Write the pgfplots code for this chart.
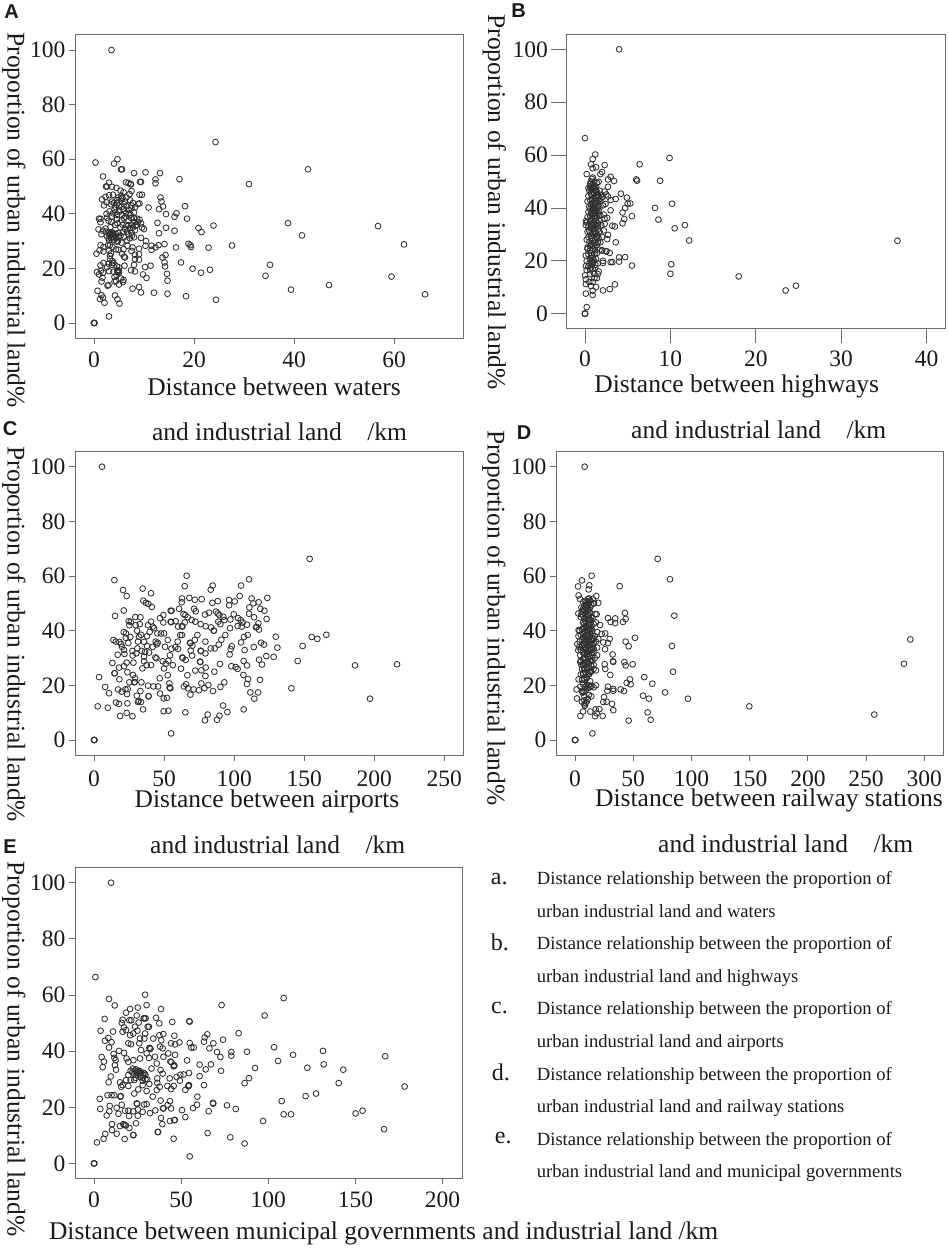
\documentclass[border=0pt]{standalone}
\usepackage{fontspec}
\setmainfont{Liberation Serif}
\newfontfamily\panelfont{Liberation Sans}
\usepackage{pgfplots}
\pgfplotsset{compat=1.18}

\definecolor{boxgray}{HTML}{6A6A6A}
\definecolor{markgray}{HTML}{303030}
\definecolor{txt}{HTML}{1A1A1A}

\newcommand{\lab}{\fontsize{25.5}{26}\selectfont}
\newcommand{\tck}{\fontsize{23.5}{24}\selectfont}
\newcommand{\leg}{\fontsize{18.6}{19}\selectfont}
\newcommand{\legl}{\fontsize{24}{24}\selectfont}
\newcommand{\pan}{\panelfont\bfseries\fontsize{20}{20}\selectfont}

\pgfplotsset{
  panel/.style={
    scale only axis,
    anchor=south west,
    axis line style={boxgray,line width=0.9pt},
    tick style={boxgray,line width=0.9pt},
    major tick length=6pt,
    tick align=outside,
    xtick pos=bottom,
    ytick pos=left,
    ytick={0,20,40,60,80,100},
    ticklabel style={font=\tck,text=txt},
    xticklabel style={yshift=-4pt},
    /pgf/number format/assume math mode=true,
    xlabel style={font=\lab,text=txt,anchor=center,at={(axis description cs:0.5,0)}},
    ylabel style={font=\lab,text=txt,anchor=center,at={(axis description cs:0,0.5)},rotate=180},
    ylabel={Proportion of urban industrial land\%},
  },
  pts/.style={only marks,mark=o,mark size=2.9pt,mark options={draw=markgray,line width=0.85pt}},
}

\begin{document}
\begin{tikzpicture}[x=1pt,y=1pt]
\path[use as bounding box] (0,-1249) rectangle (948,0);

% A: waters
\begin{axis}[panel,at={(75pt,-338pt)},width=388pt,height=303.5pt,
  xmin=-3.8,xmax=73.8,ymin=-5.5,ymax=105.7,xtick={0,20,40,60},
  xlabel={Distance between waters},
  xlabel style={xshift=5pt,yshift=-49pt},
  ylabel style={xshift=34pt,yshift=-61pt}]
\addplot[pts] coordinates {
(3.5,100)(24.3,66.3)(42.8,56.3)(31,50.9)(0.3,58.8)(4.7,60)(4,58.4)(5.4,56.3)(5.6,56.3)(8,54.9)(10.3,55.2)(13.2,54.9)(17.1,52.7)(12.3,52.6)(12.3,51.2)(9.2,51.7)(9.4,51.7)(1.8,53.7)
(18.2,42.8)(16.5,40.2)(16.1,38.9)(18.6,38.2)(14.4,39.9)(10.9,42.3)(13.3,46)(13.5,44.5)(13.8,42.7)(13,41.7)(12.7,36.7)(14.4,34.9)(13,32.9)(16.1,33.8)(20.9,34.8)(21.5,33.3)(23.9,35.7)(38.8,36.6)(41.6,32.1)(56.8,35.5)(62,28.8)(27.6,28.4)(22.9,27.6)(19.3,28.5)(18.9,29)(19.4,27.8)(16.4,27.7)(14.1,28.9)(12.9,28.5)(11.5,28.3)(12.3,27.7)(11.5,26.8)(10.3,28.3)(10.4,30)(9.4,31.2)
(14.3,24.9)(13.7,24)(14.1,22.2)(14.2,20.7)(17.4,22.2)(19.7,19.9)(21.4,18.4)(23.2,19.5)(35.2,21.3)(34.3,17.3)(14.6,18)(14.7,15.5)(11.3,21)(10.2,20.5)(9.8,17.8)(10.5,16.5)(59.5,17)(47,13.9)(39.4,12.2)(66.2,10.5)(24.4,8.5)(18.4,9.8)(14.7,10.7)(12,11.1)(9.4,11.2)(9,13.2)(7.7,12.6)(3,2.4)(0,0)(0,0)(0.1,0)
(5.1,7.1)(4.7,8.7)(4.2,10.1)(2.1,7.4)(1.2,8.8)(1.8,9.3)(1.5,10.2)(0.7,11.8)(2.7,13.7)(2.9,13.9)
(3,51.4)(2.6,50)(2.4,50)(3.6,49.9)(4.5,49.5)(6.4,51.5)(6.9,51.3)(7.3,50.9)(7.4,50.8)(5.3,48.5)(5.9,47.9)(7.5,48.4)(7.1,47.2)(9.1,47)(9.6,47)
(1.6,45.3)(2.3,46.2)(3,46.8)(3.8,47)(4.6,45)(5.4,45.6)(5.7,45.8)(6.2,44.5)(7.2,45)(7.8,44)(2.5,44.2)(2,43.1)(3.4,43.5)(4,44)(4.3,42.6)(5,43)(4.1,41.5)(8.8,43.6)(9.1,43.8)(8.2,42.4)(7.5,42)(6.5,42.8)(5.9,41.7)(6.4,40.3)(6.9,40)(7.3,39.7)(5.1,40.8)(4.6,39.6)(3.5,39)(2.6,38.6)(2.5,40)(3.1,40.9)(1.3,38.2)(1,38.2)(1.3,36.9)(4.6,38)(5.5,37.7)(6,38.4)(6.9,37.4)(8,38.5)(8.6,38.2)(9.1,37.9)(9.4,36.5)(8.8,37)(9.6,35)(10,34.4)(8.3,35.6)(7.8,35)(7.1,34.7)(6.5,35.8)(5.7,36)(5.3,35)(4.2,36)(3.3,35.2)(2.3,34.6)(1.8,33.8)(0.9,34.3)
(1.5,32.5)(2.4,33.4)(3,33)(3.3,32.5)(3.6,32.3)(3.9,32.6)(4.2,32)(2.6,31.8)(3.4,31)(4.5,31)(4.9,33)(5.8,33.4)(6.6,33.5)(7.5,33.1)(8.2,34)(8,31.4)(7.2,31)(6.6,30.3)(5.5,29.4)(4.6,29.8)(3.2,28.6)(2.8,28.5)(3.7,27.9)(1.3,28.5)(1.9,27.8)(1.1,26.6)(0.5,25.4)(1.9,26.2)(4.9,26.8)(5.9,27)(6.7,28.3)(7.7,27.7)(7.5,26.4)(5.6,25.4)(6,24.3)(6.2,24)(8.2,25)(9,25.2)(9,27.2)(8.2,23.4)(9,23.2)(8,21.3)(6.1,21)(3.2,24.6)(3.2,23.4)(3.7,22.7)(1.9,22)(2.9,21.7)(1.3,21.1)(2.6,20.5)(3.7,22)(4.6,20.7)(5,20.4)(7.4,19.3)(8.2,18.9)(0.6,18.7)(1.4,19.2)(1.8,18.4)(3,19)(3.9,18.8)(4.7,19.4)(5,18.5)(4.5,17.6)(4.1,16.9)(1,17.8)(1.7,16.6)(5.4,16.3)(5.9,15.8)(5.8,15)(4.4,15.4)(4.1,15.2)(5,14.1)(1.5,15.2)
(3.2,32)(3.5,31.5)(3.8,33)(4,31.5)(3.1,32.5)(3.6,33.2)(4.4,32.6)(2.9,31)(3,30.3)(4,30.5)(4.8,30)(4.9,31.5)(5.3,32)(6,31.5)(6.9,32.5)(7.6,32)(6.2,34.5)(6.9,35.8)(7.5,36)(8.1,37)(7.4,38.5)(6.3,39)(5.6,39.5)(4.3,40.5)(3.8,40.2)(5,41.5)(5.5,42.5)(6,43.5)(4.6,43.8)(3.6,44.5)(4.9,46)(5.5,46.5)(6.5,46)(7.5,43)(6.9,41.5)(8,40.5)(8.5,36)(3.5,37)(2.9,37.5)(4.7,36.5)(3,26.5)(3.4,25.5)(4.4,27)(4.7,19)(4.9,19.1)(4.8,18.7)(3.9,22)(3.6,21.3)
};
\end{axis}

% B: highways
\begin{axis}[panel,at={(566.3pt,-328pt)},width=379pt,height=293.5pt,
  major tick length=15pt,
  xmin=-2.19,xmax=42.2,ymin=-5.4,ymax=105.6,xtick={0,10,20,30,40},
  xlabel={Distance between highways},
  xlabel style={xshift=-19pt,yshift=-58pt},
  ylabel style={xshift=21pt,yshift=-72pt}]
\addplot[pts] coordinates {
(4,100)(0,66.4)(1.2,60.2)(0.9,58.5)(9.9,58.9)(2.3,56.2)(6.4,56.5)(0.7,56.5)(1.3,55.4)(0.9,55)(2,53.6)(0.2,52.8)(1.8,52.8)(3,51.8)(6,50.8)(6.1,50.3)(8.8,50.3)(3.4,50.2)(2.7,50.8)(1.6,49.9)(2.7,48)(2.3,46.2)(4.2,45.4)(4.9,43.9)(2.5,45.1)(2.7,44.3)(3,43)(3.6,43.4)(5.3,41.7)(5,41.6)(10.2,41.6)(8.2,40)(4.7,40)(4.4,38.3)(3,39.1)(5.5,36.9)(8.6,35.6)(4.6,35.8)(4.4,34.2)(11.7,33.5)(10.5,32.3)(3.2,33.3)(3.5,33)(12.2,27.7)(36.6,27.6)(2.7,29.8)(2.6,28.2)(3.6,27)(2.5,23.7)(2.9,23)(2,23.8)(4.7,21.4)(4,21.3)(4,19.7)(3.2,19.5)(3,19.5)(5.5,18.2)(10.1,18.7)(10,15.1)(18,14.1)(24.7,10.6)(23.5,8.8)(3.5,11.1)(2.9,9.3)(2.1,8.8)(1.3,10.1)(0.9,8.7)(0.9,7.1)(0.1,7.6)(0.2,2.5)(0,0)(0,0)(0,0.1)
(0.1,35)(0.1,33.5)(0.2,34.5)(0.3,31)(0.2,28)(0.3,25)(0.1,22)(0.2,20)(0.1,18)(0.2,16.5)(0,14.5)(0.1,13)(0.1,11.2)(0.5,12)(0.6,15)(0.7,10.5)(0.9,12)(1.1,13.5)(1.4,13.5)(1.5,15)(1.6,16)(1.1,15)(0.7,17.5)(0.4,18)(0.8,19)(1.2,18.5)(1.5,19)(2.1,19.2)(2.1,20)(0.6,20.5)(0.9,21)(0.4,22.5)(0.7,23)(1.2,24)(1.7,24.2)(2,24)(2.5,23.5)(0.3,24.5)(0.6,25.5)(1,25.8)(1.4,26)(1.8,27)(0.5,27)(0.9,27.5)(1.2,28)(1.6,28.5)(2,29)(0.4,29)(0.7,29.5)(1,30)(1.3,30.5)(1.7,31)(2.2,31.5)(0.5,31.5)(0.9,32)(1.2,32.5)(1.5,33)(1.9,33.5)(2.3,34)(0.4,33)(0.7,34)(1,34.5)(1.3,35)(1.6,35.5)(2.6,36.2)(2.3,36)(0.3,36.5)(0.6,37)(0.9,37.5)(1.2,38)(1.5,38)(1.8,37.2)(2.2,37.5)(0.4,38.5)(0.8,39)(1.1,39.5)(1.4,40)(1.7,40.2)(2.1,41)(2.4,41.5)(0.5,40.5)(0.9,41)(1.2,41.5)(1.5,42)(1.8,42.5)(0.3,42.5)(0.6,43)(1,43.5)(1.3,44)(1.6,44.5)(1.9,45)(0.4,44.5)(0.8,45)(1.1,45.5)(1.4,46)(1.7,46.5)(0.5,46.5)(0.7,47.5)(0.4,47.5)(1,48)(1.2,47)(0.6,49)(0.7,50)(0.8,51)(0.9,51.5)(1.1,50)(1.4,49.5)(1.5,45)(1.8,43.5)(2,44)
(0.8,22)(1.1,22.6)(0.6,24)(1.4,23)(0.9,24.6)(1.2,25.4)(0.7,26.2)(1.5,27)(1.1,26.8)(0.8,28.4)(1.3,29)(1.5,29.6)(0.6,30.5)(0.9,30.8)(1.2,31.2)(1.5,31.8)(0.7,32.6)(1,33)(1.3,33.6)(0.8,33.4)(1.1,33.9)(1.5,34.2)(0.6,35)(0.9,35.6)(1.2,36)(1.4,36.6)(0.8,36.4)(1.1,36.9)(1.6,37)(0.7,38)(1,38.6)(1.3,38.9)(1.6,39)(0.6,39.6)(0.9,40.2)(1.2,40.5)(1.5,40.8)(0.7,41.4)(1,42)(1.3,42.6)(1.6,43)(0.8,43)(1.1,43.9)(1.4,44.6)(0.7,45.4)(1,46)(1.3,46.6)(0.8,46.8)(0.9,47.6)(1.1,47.8)(1.3,48)(0.6,48.2)(0.9,49)(0.8,20)(1,20.4)(1.3,20.7)(0.5,19)(1,19.6)(0.6,16.5)(0.9,17)(1.2,17.3)
};
\end{axis}

% C: airports
\begin{axis}[panel,at={(75pt,-755pt)},width=388pt,height=303.3pt,
  xticklabel style={yshift=-2pt},
  xmin=-13.6,xmax=263.4,ymin=-5.5,ymax=105.5,xtick={0,50,100,150,200,250},
  xlabel={Distance between airports},
  xlabel style={xshift=-2pt,yshift=-46pt},
  ylabel style={xshift=31pt,yshift=-61pt}]
\addplot[pts] coordinates {
(5.7,100)(153.9,66.3)(14.5,58.5)(20.7,54.9)(23.3,52.7)(34.7,55.4)(40.7,53.7)(35.2,51)(37,50.2)(38.8,49.8)(41.2,48.7)(21.2,47.4)(15,45.4)
(66.1,60.1)(64.7,56.3)(84.7,56.5)(83.3,55)(104.9,56.5)(110.6,58.8)(62.8,51.8)(62.6,50.4)(68,52)(71.9,51.3)(76.8,51.5)(84.5,50.2)(88.3,50.8)(96.4,51.2)(96.4,49.3)(100.4,50.7)(104,52.7)(112.5,51.8)(123.7,52)(113.7,50)(117.5,50.4)(110.9,48.5)(118.7,48)(121.6,47.3)(110.6,46.2)(114.2,44.9)(123.2,44.3)(117.3,42.7)(115.6,41.2)(116.2,41.4)(117.8,40.4)
(55.4,47.3)(54.7,47.3)(60.7,48)(63.8,46.1)(65.2,45.7)(71.4,48)(72.6,47.1)(66.9,44.9)(69.7,43.9)(72.3,43.3)(76.1,42.4)(79.2,45.9)(82.1,46.6)(79.7,41.6)(83.5,41.2)(85.4,40)(85.6,40)(87.1,47)(88.3,46.3)(89.5,45.7)(92.3,45.1)(93,43.9)(88.7,43.3)(90.2,42.4)(97.3,44.1)(99.7,46)(102.8,44.6)(104.7,43.9)(106.1,43)(102.5,41.7)(105.4,41.5)(109.2,42.2)(97.1,40.9)(109.7,38.4)(107.1,37.7)(104.9,35.7)(93.7,38.4)(90.9,36.7)(89,34.9)(98.3,34.3)(97.5,33.3)(96.8,31.3)(107.5,32.9)(114,34)(119.2,35.6)(121.3,34.9)(129.7,37.8)(130.9,33.8)(123,30.7)(128.2,30.4)(117.8,29.4)(106.8,28.9)(109.2,27.3)(119.9,27.6)(148.9,34.4)(145.4,28.9)(155.4,37.7)(159.4,37)(165.8,38.5)(140.9,18.9)(186.3,27.3)(216.3,27.7)(197,15.1)
(98,27)(101.1,26.7)(102.5,26)(89.9,27.8)(85.9,25)(106.6,23.8)(109.9,22.3)(109.2,20.5)(118.5,22)(111.6,17.4)(117.1,17.4)(114.4,15.1)(106.8,11.2)(95.2,10.2)(92.1,12.6)(93,21.1)(90.2,19.4)(89.5,8.9)(87.8,7.4)(81.1,9.3)(79.2,7.2)(65.2,10.1)(53.1,10.7)(49.7,10.5)(55,2.4)(27.4,8.7)(23.3,9.9)(18.6,8.8)(9.8,11.8)(2.6,12.3)(10.7,17.1)(7.9,19.4)(3.6,23)(17.8,13.2)(15.7,13.7)(23.8,13.4)(35,11.2)(33.5,13.9)(31.4,13.9)(31.9,14.3)(38.8,16)(39,16)(30.5,16.2)(33.1,17.9)(33.8,21.1)(28.8,21.1)(29,21.2)(29.3,22.6)(27.8,23.8)(23.8,24.8)(25.2,21.1)(18.1,22.2)(17.1,18.5)(19.7,17.7)(22.4,18.5)(24,18.7)(23.6,16.8)(14.5,24.4)(14.8,24.4)(17.8,26.5)(13.1,28.2)(21.4,27)(23.3,28.3)(16.9,31.2)(21.7,31.5)(13.8,36.6)(15.5,36)(18.1,35.9)(19.3,35.1)(20,34.1)(21.4,32.9)(24.5,35.5)(25.9,37.7)(22.6,37.4)(21.2,39.5)(22.8,39)(24.7,43.5)(26.2,43.2)(25.2,42)(29.5,45)(33.1,44.9)(29.7,42)(32.6,42.4)(30.7,40)(33.5,38.5)(32.1,37.8)(31.4,36)(35.7,35.9)(27.4,32.6)(30.2,31.7)(34,32.6)(36.4,32.2)(39.3,32)(27.6,30.9)(30.9,33.5)(28.1,28.3)(35.7,30.5)(35.7,28.8)(37.6,27.4)(40.7,27.4)(34.5,26.2)(43.8,30.2)(44.6,29.9)(37.8,34.4)(38.5,42)(39.7,39.5)(40.7,43.3)(41.9,41.5)(42.8,40.9)(45.2,39)(44,36)(45.4,35.6)(44.7,35)(41.9,34.1)(37.8,38)(47.1,44.6)(49.5,45.7)(49.5,43)(47.8,39)(50,39)(52.6,36.6)(50.7,34.1)(49,28.8)(51.2,27.9)(50,26.2)(52.6,23.7)(46.9,22.6)(56.2,27.4)(53.1,29)(54.2,31)(55.2,33.4)(58,34)(60,33.3)(59.7,36)(63,30.2)(63.3,30)(65.4,29.3)(62.1,26.1)(66.6,23.7)(62.8,38.4)(61.5,38.4)(60,41.5)(58.3,43.5)(54.7,43.3)(55,43.1)(62.8,41.7)(63,41.5)(64.7,43)(68.5,35.6)(68.8,35.4)(70.2,34.5)(69,32.7)(70,30.9)(72.3,25.4)(76.1,32.7)(76.3,32.5)(79.5,31.7)(75.7,28.7)(75.9,28.5)(76.6,25.5)(79.7,26.5)(79.5,23.4)(73.8,38.4)(71.9,36.6)(83.3,33.5)(86.1,33.5)(79.5,36)
(65.7,20.4)(64.2,19.6)(54.2,19.1)(54.4,18.9)(54,19.2)(53.8,20.7)(67.1,18.9)(68.8,16.6)(71.1,18.5)(74.9,18.2)(76.6,20.7)(78.8,19)(81.6,20.1)(84.9,17.9)(45.7,19.6)(42.4,19.6)(38.5,19.9)(47.1,17)(49.7,15.2)(52,15.4)(0,0)(0,0)(0.3,0)
};
\end{axis}

% D: railway stations
\begin{axis}[panel,at={(556pt,-755pt)},width=387.3pt,height=303.3pt,
  xticklabel style={yshift=-2pt},
  xmin=-16.3,xmax=316.3,ymin=-5.5,ymax=105.5,xtick={0,50,100,150,200,250,300},
  xlabel={Distance between railway stations},
  xlabel style={xshift=19.4pt,yshift=-45.5pt},
  ylabel style={xshift=14.5pt,yshift=-62pt}]
\addplot[pts] coordinates {
(8.3,100)(71,66.3)(14.3,60.1)(81.6,58.8)(6,58.4)(38.4,56.3)(2.6,56.2)(12.3,56.6)(11.7,55.1)(3.1,52.9)(18.3,52.7)(4.3,51.6)(20,50.2)(16.3,50)(12,51.8)(15.2,51.6)
(85.3,45.5)(42.9,46.5)(43.5,44.3)(41.2,43.2)(28.3,44.6)(34.6,44.5)(30.6,43.2)(34.4,42.8)(17.5,46.1)(18.6,46)(21.5,42.1)(22.9,38.8)(26,39)(29.8,37)(51.5,37.4)(43.5,36)(46.1,34.3)(83.3,34.4)(288,36.8)(282.5,27.9)(28.3,35.5)(24.3,35.7)(25.8,33.2)(32.3,31.3)(32.6,28.8)(32.9,28.6)(25.5,27.7)(26,26)(42.4,28.5)(43.5,27.3)(49.5,27.7)(30.3,23.8)(84.2,25)(59.5,23)(66.4,20.6)(47.2,22.2)(47.8,20.4)(44.4,20.9)(77.3,17.4)(97,15.1)(58.4,16.2)(63.5,15.1)(149.7,12.3)(257,9.3)(62.4,10.1)(65,7.4)(46.1,7.1)(42.1,17.9)(39.2,18.5)(32.9,18.7)(32.9,18)(27.8,18)(28.3,19.5)(24.9,15.7)(27.2,14)(24.3,13.9)(31.8,13.2)(32.9,10.9)(23.8,8.8)(17.2,8.7)(18.6,9.8)(20.9,11.3)(17.7,11.2)(13.2,10.4)(14.9,2.4)(4.6,8.8)(6.9,10.4)(0,0)(0,0)(0.3,0)
(1.7,15.2)(1.4,18.5)(3.1,22.2)(2,35.1)(3.1,40.2)(2.9,46.3)(3,38)(2.8,32.8)
(3.5,34)(4,36)(5,33)(4.5,31)(5,29)(5.5,27.5)(4.5,28.5)(6,26)(5,24)(7,24)(6,22)(8,22.5)(7,20.5)(4.5,19.5)(6,18)(6.5,17.3)(7.5,17.6)(9,19.5)(10,20)(11,19)(12,20)(13,19.3)(14,19.8)(16,19.3)(18,20)(10,23)(12,24)(14,25)(16,26)(18,25.5)(11,26)(9,26)(8,28)(10,28.5)(12,28)(14,29)(16,27.5)(19,31)(17,30)(8,30)(10,31)(12,31.5)(14,31.8)(16,32)(7,32)(9,33)(11,33.5)(13,33)(15,33.7)(19,33.8)(6,34.5)(8,35)(10,35.5)(12,36)(14,35)(16,35.5)(18,36)(6.5,36.5)(8.5,37)(10.5,37.5)(12.5,38)(14.5,37.5)(17,38)(20,37)(5,38.5)(7,39)(9,39.5)(11,40)(13,40.5)(15,40)(19,39.5)(4,40)(6,40.5)(8,41)(10,41.5)(12,42)(14,42)(16,42.5)(18,43)(7,43)(9,43.5)(11,44)(13,44)(15,44.5)(5,45)(7,45.5)(9,46)(11,46)(13,46.5)(6,47)(8,47.5)(10,48)(12,47.5)(5.5,48.5)(8,49)(10,49.5)(12,50)(14,49.5)(16,50)(7,50.5)(9,51)(11,51.5)(8.5,12.5)(8,13)(9,13.5)(8,14.5)(11,15)(12,16.5)(14,16)(10,14)(6,14)(8,16)(9,18)(5.5,46)
(8,22)(10,22.5)(13,21.5)(7,24.5)(9,24.6)(11,24)(13,25)(8,26)(10,26.6)(12,26.3)(14,27)(7,27.6)(9,28)(11,28.6)(13,28.8)(15,29)(7,29.6)(9,30.2)(11,30.3)(13,30.5)(15,31)(8,31.4)(10,32)(12,32.5)(14,33)(16,33.4)(7,33.6)(9,34)(11,34.5)(13,34.6)(15,35)(8,36)(10,36.6)(12,37)(14,36.5)(16,37)(7,37.6)(9,38)(11,38.6)(13,39)(15,38.6)(8,39.6)(10,40)(12,40.6)(14,40.8)(7,41)(9,41.6)(11,42)(13,42.6)(8,42.5)(10,43)(12,44)(14,45)(8,44.5)(10,45)(12,45.6)(9,47)(11,47.5)(7,48)(9,48.5)(11,49)(13,48.5)(9,50)(11,50.5)(13,51)
};
\end{axis}

% E: municipal governments
\begin{axis}[panel,at={(75pt,-1178.3pt)},width=387.3pt,height=311pt,
  xmin=-10.9,xmax=211.3,ymin=-5.3,ymax=105.5,xtick={0,50,100,150,200},
  xlabel={Distance between municipal governments and industrial land /km},
  xlabel style={xshift=115pt,yshift=-55pt},
  ylabel style={xshift=26pt,yshift=-61pt}]
\addplot[pts] coordinates {
(9.8,100)(0.8,66.4)(29.3,60.1)(8.6,58.6)(11.9,56.3)(30.2,56.4)(73.2,56.4)(108.8,58.9)(97.9,52.7)(20.7,55)(25.1,55.5)(38.4,55)(18.4,53.7)(6.1,51.5)(35.6,51.9)(28.5,51.7)(28.9,51.7)(29.6,51.7)(44.9,50.4)(54.7,50.7)(54.9,50.5)(37.5,49.9)(3.8,47.3)(10.9,47)(83,46.4)(65,46)(46.1,45.5)(39.8,46.1)(68.5,42.8)(74,44.1)(63.5,44.9)(63.1,43.4)(66.2,41)(57.2,41.3)(55.8,41.3)(54.9,42.9)(49,43.1)(46.5,42.4)(44.2,42.8)(70.6,39.7)(72.5,37.9)(78.8,39.7)(78.8,38.4)(87.8,39.8)(103.3,41.4)(105.6,36.5)(114.2,38.7)(131.4,40.1)(167.1,38.2)(122.4,34.1)(131.8,35.3)(143,33.4)(92.4,34)(72.9,33)(67.1,35.3)(64.1,33.5)(60.6,35.2)(60.6,31.1)(63.1,27.9)(53.4,36.7)(46.5,38.7)(43.8,36.3)(44.4,36.1)(45.9,35)(46.1,34.8)(45.7,34.6)(54.5,32.2)(51.4,31.7)(49.5,31.6)(47.4,30.8)(43.4,30.3)(49.3,29.5)(54.3,27.7)(54.5,27.9)(54.1,27.5)(52.4,26.2)(45.7,27.6)(44.2,26.5)(59.3,23.8)(59.1,20.9)(56.8,19.7)(50.5,19)(52.4,16.5)(65.8,18.6)(68.3,21.6)(68.4,21.3)(76.3,20.7)(81.3,19.4)(86.4,28.6)(88.9,30.4)(140.4,28.6)(127.4,24.9)(121.4,24)(107.7,22.2)(108.8,17.5)(113,17.5)(97,15.1)(150.1,17.8)(154.1,18.8)(178.2,27.4)(166.4,12.2)(86.4,7.1)(78.2,9.3)(65.2,10.8)(54.9,2.5)(45.7,8.8)(46.1,15.4)(46.4,15.5)(43.6,15.1)(36.5,11.2)(36.8,11.2)(22.4,10.1)(22.7,10.1)(17.6,8.7)(13,10.6)(10.3,11.9)(10.3,14)(6.5,10.5)(5.5,8.8)(1.7,7.5)(0,0)(0,0)(0.2,0)
(3.3,23)(3.6,19.4)(7.3,17.1)(8.8,18.6)(9,20.5)(7.8,24.3)(10.1,24.3)(8.4,28.9)(9.6,31)(5,34.3)(5.7,36.3)(4.4,37.9)(8.6,41.3)(6.3,43.7)(8.2,44.7)(10.1,43.2)(11.3,39)(11.7,37.6)(12,35)(12.6,33.4)(14.3,40.1)(12.4,36.8)
(11.6,24.3)(15.1,23.8)(15.4,24)(14.9,28.9)(15.5,27.3)(13,19.8)(14,17.7)(15.9,20.9)(14.9,13.3)(16.8,14)(17.5,13.7)(18.3,13.5)(20.3,12.6)(17.8,18.8)(19.7,18.8)(20.1,16.9)(22.6,18.6)(24.5,21.4)(24.8,21.2)(25.2,19.2)(25.1,17)(24.1,14.3)(27.9,18.4)(28.7,21)(30.2,21.1)(32.1,17.9)(35.2,18.9)(38.4,16.2)(39.2,14)(39.6,19.6)(39.9,19.6)(38.2,22.4)(43.6,22.2)(44.2,19.6)(42.3,20.8)(33.7,23.8)(37.7,27.3)(36.3,28.7)(36.3,30.3)(36,26.1)(42.1,27.6)
(15.9,50.1)(16.4,51.2)(20.3,51)(21.4,51)(24.5,52.7)(25.6,50.2)(23.5,48.7)(17.2,48.5)(18.4,47.5)(16.4,46.9)(20.7,45.7)(22.6,46.3)(24.9,47.3)(29.3,46.3)(30.8,48.7)(31.5,48.7)(26.4,44.5)(19.7,42.8)(21.2,42.5)(26,42.8)(28.9,44.5)(34,44.5)(37.5,45.7)(38.6,43.9)(37.9,41.6)(39.4,41)(32.1,41)(32.4,40.8)(31.8,41.2)(30.2,39.2)(27,40.4)(17.2,39.4)(18.7,37.4)(19.7,36.2)(22.6,36.8)(26.4,37.4)(31.6,37.6)(35,38)(39.8,38)(42.6,39.2)(33,33.8)(36,35.6)(38.2,33.3)(39.4,32)
(22.2,33.8)(23.5,33)(24.9,32.4)(26.4,32)(28.3,32.3)(29.5,31.5)(19.7,31.5)(18.4,29.7)(21,29.7)(23.1,29.7)(27.9,29.5)(30.6,29.9)(16.4,27.9)(19.7,27.6)(25.4,26.4)(30.2,25.8)(23.1,24.9)(27.9,27.9)(31.7,28.3)
(24,33.5)(25,33)(26,33)(27,32.4)(28,31.5)(29,32)(22,32.5)(23,31.8)(25,31.5)(26.5,30.8)(28,30.5)(24,30.5)(21,33)(29.5,30)
};
\end{axis}

% second lines of the x labels
\begin{scope}[every node/.style={font=\lab,text=txt,anchor=center}]
\node at (279.5,-432) {and industrial land\hspace{1em}/km};
\node at (758.7,-430) {and industrial land\hspace{1em}/km};
\node at (277.7,-845) {and industrial land\hspace{1em}/km};
\node at (785.7,-844) {and industrial land\hspace{1em}/km};
\end{scope}

% panel letters
\begin{scope}[every node/.style={font=\pan,text=txt,anchor=center,inner sep=0pt}]
\node at (11.5,-12) {A};
\node at (518.5,-11) {B};
\node at (10,-429) {C};
\node at (524,-433) {D};
\node at (10,-847) {E};
\end{scope}

% caption block
\begin{scope}[every node/.style={font=\leg,text=txt,anchor=base west,inner sep=0pt}]
\node at (536.7,-884) {Distance relationship between the proportion of};
\node at (536.7,-917) {urban industrial land and waters};
\node at (536.7,-949) {Distance relationship between the proportion of};
\node at (536.7,-982) {urban industrial land and highways};
\node at (536.7,-1014) {Distance relationship between the proportion of};
\node at (536.7,-1047) {urban industrial land and airports};
\node at (536.7,-1080) {Distance relationship between the proportion of};
\node at (536.7,-1112) {urban industrial land and railway stations};
\node at (536.7,-1145) {Distance relationship between the proportion of};
\node at (536.7,-1177) {urban industrial land and municipal governments};
\end{scope}
\begin{scope}[every node/.style={font=\legl,text=txt,anchor=base west,inner sep=0pt}]
\node at (490.7,-884) {a.};
\node at (490.7,-950) {b.};
\node at (491,-1013) {c.};
\node at (491.7,-1080) {d.};
\node at (494.7,-1143) {e.};
\end{scope}
\end{tikzpicture}
\end{document}
